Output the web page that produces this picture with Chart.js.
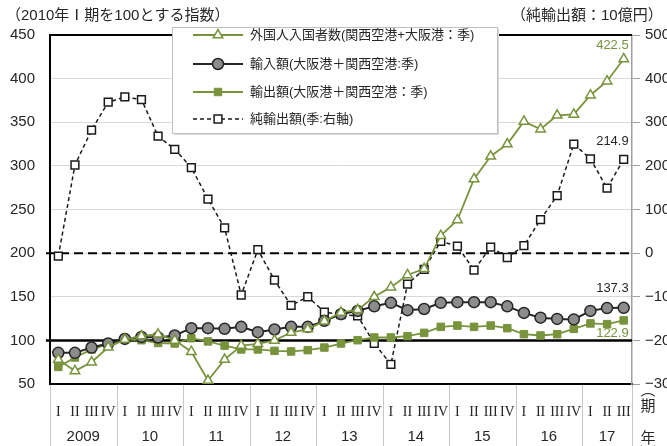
<!DOCTYPE html>
<html>
<head>
<meta charset="utf-8">
<script src="https://cdn.jsdelivr.net/npm/chart.js@4.4.0/dist/chart.umd.min.js"></script>
<style>
  body { margin: 0; background: #fff; }
</style>
</head>
<body>
<canvas id="myChart" width="667" height="446"></canvas>
<script>
'use strict';

// quarters 2009 I .. 2017 III
var quarters = ['I','II','III','IV','I','II','III','IV','I','II','III','IV',
                'I','II','III','IV','I','II','III','IV','I','II','III','IV',
                'I','II','III','IV','I','II','III','IV','I','II','III'];
var years = ['2009','10','11','12','13','14','15','16','17'];

var seriesNames = ['外国人入国者数(関西空港+大阪港：季)', '輸入額(大阪港＋関西空港:季)',
                   '輸出額(大阪港＋関西空港：季)', '純輸出額(季:右軸)'];

var visitors = [78, 65, 75, 92, 101, 105, 107, 100, 87, 54, 78, 94,
                96, 100, 109, 113, 122, 132, 135, 150, 161, 175, 182, 220,
                238, 285, 311, 325, 351, 342, 358, 359, 381, 397, 422.5];
var imports = [85.7, 85.7, 91.8, 96.4, 101.7, 104, 103.3, 105.6, 114, 114, 113.2, 115.5,
               109.4, 112.5, 115.5, 115.5, 122.4, 130, 133.8, 139, 143, 134.6, 136, 143,
               143.8, 143.8, 143.8, 139, 131.5, 126, 124.6, 124, 133.8, 137, 137.3];
var exportsIdx = [69.6, 80.4, 89.6, 95.6, 101, 100.2, 97, 96.4, 102.5, 98.8, 94, 89.6,
                  89.6, 88, 87.3, 88.8, 91.8, 96.4, 100.2, 103.3, 103.3, 104.8, 108.6, 115.5,
                  117, 115.5, 117, 114, 107.1, 105.6, 107.1, 113.2, 119.4, 118.6, 122.9];
var netExports = [-7, 202, 282, 346, 358, 352, 268, 238, 196, 124, 58, -96,
                  8, -62, -120, -100, -135, -141, -144, -207, -255, -71, -37, 27,
                  16, -39, 14, -10, 17, 77, 132, 250, 216, 149, 214.9];

var green = '#77933c';
var dark = '#262626';
var numFont = '"Liberation Sans", "Noto Sans CJK JP", sans-serif';

var decor = {
    id: 'decor',
    beforeDatasetsDraw: function(chart) {
        var ctx = chart.ctx, a = chart.chartArea;
        ctx.save();
        ctx.strokeStyle = '#000';
        // zero line of the right axis
        var y0 = chart.scales.y2.getPixelForValue(0);
        ctx.lineWidth = 2;
        ctx.setLineDash([9, 5]);
        ctx.beginPath(); ctx.moveTo(a.left - 4, y0); ctx.lineTo(a.right, y0); ctx.stroke();
        ctx.setLineDash([]);
        // base line at 100
        var y100 = chart.scales.y.getPixelForValue(100);
        ctx.lineWidth = 2.5;
        ctx.beginPath(); ctx.moveTo(a.left - 4, y100); ctx.lineTo(a.right, y100); ctx.stroke();
        // top frame
        ctx.lineWidth = 2;
        ctx.beginPath(); ctx.moveTo(a.left - 1, a.top); ctx.lineTo(a.right, a.top); ctx.stroke();
        ctx.restore();
    },
    afterDatasetsDraw: function(chart) {
        var ctx = chart.ctx;
        var tags = [
            { ds: 0, text: '422.5', color: green, dy: -14 },
            { ds: 3, text: '214.9', color: dark, dy: -18 },
            { ds: 1, text: '137.3', color: dark, dy: -19 },
            { ds: 2, text: '122.9', color: green, dy: 13 }
        ];
        ctx.save();
        ctx.font = '13px ' + numFont;
        ctx.textAlign = 'right';
        ctx.textBaseline = 'middle';
        tags.forEach(function(t) {
            var pts = chart.getDatasetMeta(t.ds).data;
            var p = pts[pts.length - 1];
            ctx.fillStyle = t.color;
            ctx.fillText(t.text, p.x + 5, p.y + t.dy);
        });
        ctx.restore();
    },
    afterDraw: function(chart) {
        var ctx = chart.ctx, a = chart.chartArea, x = chart.scales.x;
        var H = chart.height;
        ctx.save();

        // year separators and year labels
        var step = x.getPixelForValue(1) - x.getPixelForValue(0);
        ctx.strokeStyle = '#c8c8c8';
        ctx.lineWidth = 1;
        for (var k = 0; k <= years.length; k++) {
            var xs = k < years.length ? x.getPixelForValue(k * 4) - step / 2 : a.right;
            ctx.beginPath(); ctx.moveTo(Math.round(xs) + 0.5, a.bottom + 1); ctx.lineTo(Math.round(xs) + 0.5, H); ctx.stroke();
        }
        ctx.fillStyle = dark;
        ctx.font = '15px ' + numFont;
        ctx.textAlign = 'center';
        ctx.textBaseline = 'middle';
        years.forEach(function(yr, k) {
            var first = k * 4, last = Math.min(k * 4 + 3, quarters.length - 1);
            ctx.fillText(yr, (x.getPixelForValue(first) + x.getPixelForValue(last)) / 2, 437);
        });

        // unit marks beside the axis
        ctx.font = '15px "Noto Sans CJK JP", sans-serif';
        ctx.fillText('︵', 648, 389);
        ctx.fillText('期', 648, 405);
        ctx.fillText('年', 648, 437);
        ctx.fillText('︶', 648, 452);

        // titles
        ctx.textAlign = 'left';
        ctx.font = '15px ' + numFont;
        ctx.fillText('（2010年Ⅰ期を100とする指数）', 6, 16);
        ctx.fillText('（純輸出額：10億円）', 511, 16);

        // legend
        var lx = 172, ly = 27, lw = 325, lh = 106;
        ctx.fillStyle = '#d9d9d9';
        ctx.fillRect(lx + 2, ly + 2, lw, lh);
        ctx.fillStyle = '#fff';
        ctx.fillRect(lx, ly, lw, lh);
        ctx.strokeStyle = '#c0c0c0';
        ctx.strokeRect(lx + 0.5, ly + 0.5, lw, lh);
        var rows = [35, 64, 92, 119];
        chart.data.datasets.forEach(function(ds, i) {
            var ry = rows[i];
            ctx.strokeStyle = ds.borderColor;
            ctx.lineWidth = ds.borderWidth;
            ctx.setLineDash(ds.borderDash || []);
            ctx.beginPath(); ctx.moveTo(193, ry); ctx.lineTo(243, ry); ctx.stroke();
            ctx.setLineDash([]);
            ctx.fillStyle = ds.pointBackgroundColor;
            ctx.strokeStyle = ds.pointBorderColor;
            ctx.lineWidth = ds.pointBorderWidth;
            Chart.helpers.drawPoint(ctx, {
                pointStyle: ds.pointStyle, rotation: 0,
                radius: ds.pointRadius, borderWidth: ds.pointBorderWidth
            }, 218, ry);
            ctx.fillStyle = dark;
            ctx.font = '13px ' + numFont;
            ctx.textBaseline = 'middle';
            ctx.fillText(ds.label, 250, ry);
        });
        ctx.restore();
    }
};

var ctx = document.getElementById('myChart').getContext('2d');
var myChart = new Chart(ctx, {
    type: 'line',
    data: {
        labels: quarters,
        datasets: [{
            label: seriesNames[0],
            data: visitors,
            yAxisID: 'y',
            borderColor: green,
            borderWidth: 1.8,
            pointStyle: 'triangle',
            pointRadius: 5.5,
            pointBackgroundColor: '#fff',
            pointBorderColor: green,
            pointBorderWidth: 1.5
        }, {
            label: seriesNames[1],
            data: imports,
            yAxisID: 'y',
            borderColor: dark,
            borderWidth: 2,
            pointStyle: 'circle',
            pointRadius: 5.5,
            pointBackgroundColor: '#8c8c8c',
            pointBorderColor: dark,
            pointBorderWidth: 1.5
        }, {
            label: seriesNames[2],
            data: exportsIdx,
            yAxisID: 'y',
            borderColor: green,
            borderWidth: 1.8,
            pointStyle: 'rect',
            pointRadius: 5.3,
            pointBackgroundColor: green,
            pointBorderColor: green,
            pointBorderWidth: 1
        }, {
            label: seriesNames[3],
            data: netExports,
            yAxisID: 'y2',
            borderColor: '#1a1a1a',
            borderWidth: 1.5,
            borderDash: [4, 3],
            pointStyle: 'rect',
            pointRadius: 5.5,
            pointBackgroundColor: '#fff',
            pointBorderColor: '#1a1a1a',
            pointBorderWidth: 1.5
        }]
    },
    options: {
        responsive: false,
        animation: false,
        devicePixelRatio: 1,
        clip: false,
        layout: { padding: { top: 35, left: 0, right: 0, bottom: 0 } },
        plugins: {
            legend: { display: false },
            tooltip: { enabled: false }
        },
        scales: {
            x: {
                offset: true,
                grid: { display: false },
                border: { display: true, color: '#000', width: 2 },
                ticks: {
                    autoSkip: false,
                    maxRotation: 0,
                    padding: 12,
                    color: dark,
                    font: { family: '"Liberation Serif", serif', size: 14 }
                },
                afterFit: function(s) { s.height = 62; }
            },
            y: {
                position: 'left',
                min: 50,
                max: 450,
                ticks: { stepSize: 50, padding: 15, color: dark, font: { family: numFont, size: 15 } },
                grid: { color: '#d9d9d9', drawTicks: false },
                border: { color: '#000', width: 2 },
                afterFit: function(s) { s.width = 50; }
            },
            y2: {
                position: 'right',
                min: -300,
                max: 500,
                ticks: {
                    stepSize: 100, padding: 5, color: dark, font: { family: numFont, size: 15 },
                    callback: function(v) { return v < 0 ? '−' + Math.abs(v) : String(v); }
                },
                grid: { drawOnChartArea: false, drawTicks: true, tickLength: 8, color: '#a0a0a0' },
                border: { color: '#a0a0a0', width: 1.5 },
                afterFit: function(s) { s.width = 35; }
            }
        }
    },
    plugins: [decor]
});
</script>
</body>
</html>
